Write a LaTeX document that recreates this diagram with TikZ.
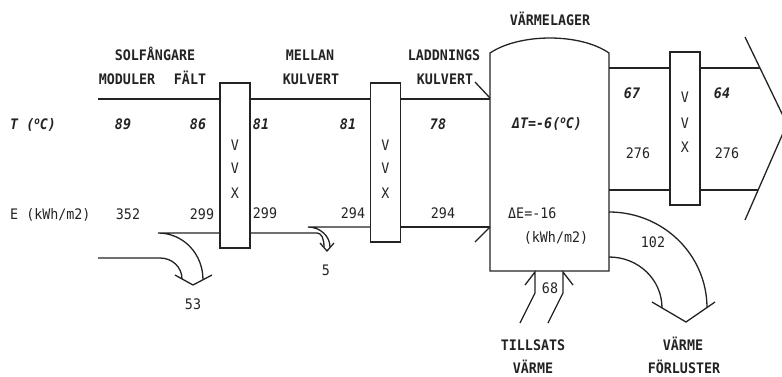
\documentclass[tikz,border=0pt]{standalone}
\usepackage{fontspec}
\setmonofont{DejaVu Sans Mono}[FakeStretch=0.92]
\definecolor{ink}{RGB}{35,35,35}
\begin{document}
\begin{tikzpicture}[x=1pt,y=-1pt,
  ln/.style={line width=1.3pt, draw=ink, line join=miter},
  box/.style={ln, minimum width=30pt, inner sep=0pt},
  lbl/.style={font=\ttfamily\bfseries\fontsize{14.5}{15}\selectfont, text=ink, inner sep=0pt, text height=10.6pt, text depth=0pt},
  tnum/.style={lbl, font=\ttfamily\bfseries\itshape\fontsize{14.5}{15}\selectfont},
  enum/.style={lbl, font=\ttfamily\fontsize{14.5}{15}\selectfont},
  vx/.style={lbl, font=\ttfamily\fontsize{14.5}{15}\selectfont}]
\useasboundingbox (0,0) rectangle (782,376);
\clip (0,0) rectangle (782,376);

% heat exchanger boxes
\node[box, minimum height=165pt] (vvxa) at (235,165.5) {};
\node[box, minimum height=159pt] (vvxb) at (385.5,162.5) {};
\node[box, minimum height=153pt] (vvxc) at (685,128.5) {};

% band: solar collectors -> first VVX
\draw[ln] (98,99) -- (vvxa.west |- 0,99);
\draw[ln] (98,258) -- (160,258) .. controls (172.1,258) and (182,267) .. (182,279);
\draw[ln] (vvxa.west |- 0,233) -- (158,233) .. controls (182.8,233) and (203,253.2) .. (203,280);
\draw[ln] (175,275) -- (193,285) -- (212,275);

% band: mellan kulvert
\draw[ln] (vvxa.east |- 0,99) -- (vvxb.west |- 0,99);
\draw[ln] (vvxa.east |- 0,233) -- (317,233) .. controls (321.5,233) and (324,238.5) .. (324,247);
\draw[ln] (vvxb.west |- 0,227) -- (308,227) .. controls (320,227) and (330,236) .. (330,247);
\draw[ln] (320,243) -- (327,251) -- (334,243);

% band: laddningskulvert
\draw[ln] (vvxb.east |- 0,99) -- (490,99);
\draw[ln] (vvxb.east |- 0,227) -- (490,227);
\coordinate (lka) at (475,82);
\coordinate (lkb) at (475,242);
\draw[ln] (lka) -- (490,98);
\draw[ln] (lkb) -- (490,227);

% storage
\draw[ln] (490,271) -- (490,53) .. controls (520,33) and (580,33) .. (609,53) -- (609,271) -- cycle;

% band out of storage
\draw[ln] (609,68) -- (vvxc.west |- 0,68);
\draw[ln] (609,190) -- (vvxc.west |- 0,190);
\draw[ln] (vvxc.east |- 0,68) -- (760,68);
\draw[ln] (vvxc.east |- 0,190) -- (758,190);
\coordinate (tip) at (787,124);
\draw[ln] (745,37) -- (tip) -- (745,220);

% losses 102
\draw[ln] (609,212) .. controls (663,212) and (707,254.6) .. (707,308);
\draw[ln] (609,257) .. controls (638.3,257) and (662,279.4) .. (662,308);
\draw[ln] (652,302) -- (686,322) -- (715,302);

% auxiliary heat 68
\draw[ln] (520,323) -- (535,293) -- (535,272) -- (525,285);
\draw[ln] (548,323) -- (563,293) -- (563,272) -- (573,285);

% VVX letters
\node[vx] (a1) at (235,145) {V};
\node[vx] (a2) at (235,168) {V};
\node[vx] (a3) at (235,193) {X};
\node[vx] (b1) at (385.5,145) {V};
\node[vx] (b2) at (385.5,168) {V};
\node[vx] (b3) at (385.5,193) {X};
\node[vx] (c1) at (685,97) {V};
\node[vx] (c2) at (685,123) {V};
\node[vx] (c3) at (685,147) {X};

% headings
\node[lbl] (h1) at (155,55) {SOLFÅNGARE};
\node[lbl] (h2) at (127,79) {MODULER};
\node[lbl] (h3) at (190,79) {FÄLT};
\node[lbl] (h4) at (310,55) {MELLAN};
\node[lbl] (h5) at (311,79) {KULVERT};
\node[lbl] (h6) at (444,55) {LADDNINGS};
\node[lbl] (h7) at (445,79) {KULVERT};
\node[lbl] (h8) at (550,20) {VÄRMELAGER};
\node[lbl] (h9) at (533,345) {TILLSATS};
\node[lbl] (h10) at (533,368) {VÄRME};
\node[lbl] (h11) at (683,345) {VÄRME};
\node[lbl] (h12) at (684,368) {FÖRLUSTER};

% row labels
\node[tnum, anchor=west] (rt) at (10,124) {T (\raisebox{0.35em}{\fontsize{10}{10}\selectfont o}C)};
\node[enum, anchor=west] (re) at (10,214) {E (kWh/m2)};

% temperatures
\node[tnum] (t1) at (123,124) {89};
\node[tnum] (t2) at (198,124) {86};
\node[tnum] (t3) at (261,124) {81};
\node[tnum] (t4) at (348,124) {81};
\node[tnum] (t5) at (438,124) {78};
\node[tnum] (t6) at (632,93) {67};
\node[tnum] (t7) at (722,93) {64};
\node[tnum] (dt) at (547,123) {ΔT=-6(\raisebox{0.35em}{\fontsize{10}{10}\selectfont o}C)};

% energies
\node[enum] (e1) at (128,214) {352};
\node[enum] (e2) at (202,214) {299};
\node[enum] (e3) at (265,213) {299};
\node[enum] (e4) at (353,213) {294};
\node[enum] (e5) at (443,213) {294};
\node[enum] (e6) at (638,153) {276};
\node[enum] (e7) at (727,153) {276};
\node[enum, anchor=west] (de) at (508,213) {ΔE=-16};
\node[enum] (deu) at (556,237) {(kWh/m2)};

% flow values
\node[enum] (f1) at (193,304) {53};
\node[enum] (f2) at (326,270) {5};
\node[enum] (f3) at (653,242) {102};
\node[enum] (f4) at (550,288) {68};
\end{tikzpicture}
\end{document}
